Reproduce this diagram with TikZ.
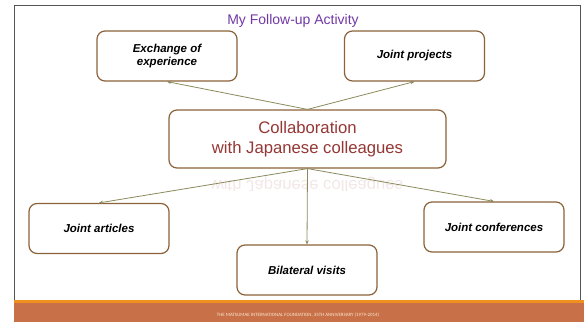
\documentclass[tikz,border=0pt]{standalone}
\usepackage{fontspec}
\setmainfont{Liberation Sans}
\newfontfamily\footfont{Carlito}
\usepackage{xcolor}
\usetikzlibrary{positioning,arrows.meta}
\definecolor{boxbrown}{RGB}{139,98,57}
\definecolor{linkolive}{RGB}{140,138,92}
\definecolor{titlepurple}{RGB}{112,56,165}
\definecolor{collabred}{RGB}{149,55,53}
\definecolor{bandorange}{RGB}{240,144,30}
\definecolor{bandbrick}{RGB}{200,112,71}
\definecolor{framegray}{RGB}{85,85,85}

\begin{document}
\begin{tikzpicture}[x=1pt,y=-1pt,
  topic/.style={draw=boxbrown,line width=1.2pt,rounded corners=8pt,fill=white,
    minimum width=140pt,minimum height=50pt,align=center,
    font=\fontsize{11.5}{13}\selectfont\bfseries\itshape},
  link/.style={draw=linkolive,line width=0.8pt,-{Stealth[length=4pt,width=3.5pt]}}]
  \useasboundingbox (0,0) rectangle (584,322);
  % slide frame and footer band
  \draw[framegray,line width=1pt] (14,322)--(14,5)--(580,5)--(580,300);
  \fill[bandbrick] (14,303) rectangle (584,322);
  \fill[bandorange] (14,300) rectangle (584,303);
  \node[text=bandorange!20!white,font=\footfont\fontsize{4.9}{5}\selectfont] (foot) at (298,315)
    {THE MATSUMAE INTERNATIONAL FOUNDATION, 35TH ANNIVERSARY (1979-2014)};
  \node[text=titlepurple,font=\fontsize{14}{16}\selectfont] (title) at (293,21) {My Follow-up Activity};
  % faint reflection under the centre box, only its upper half shows
  \begin{scope}
    \clip (170,168) rectangle (446,190);
    \node[yscale=-1,text=collabred,opacity=0.12,font=\fontsize{16.7}{20}\selectfont] (mirror) at (307.5,185)
      {with Japanese colleagues};
  \end{scope}
  \node[topic,minimum width=277pt,minimum height=58pt,text=collabred,
    font=\fontsize{16.7}{20}\selectfont] (collab) at (307.5,139)
    {Collaboration\\with Japanese colleagues};
  \node[topic] (exch) at (167,56) {Exchange of\\experience};
  \node[topic] (proj) at (414.5,56) {Joint projects};
  \node[topic] (art) at (99,228.5) {Joint articles};
  \node[topic] (conf) at (494,227) {Joint conferences};
  \node[topic] (bil) at (307,270) {Bilateral visits};
  \foreach \n in {exch,proj}
    \draw[link] (collab.north) -- (\n.south);
  \foreach \n in {art,bil,conf}
    \draw[link] (collab.south) -- (\n.north);
\end{tikzpicture}
\end{document}
